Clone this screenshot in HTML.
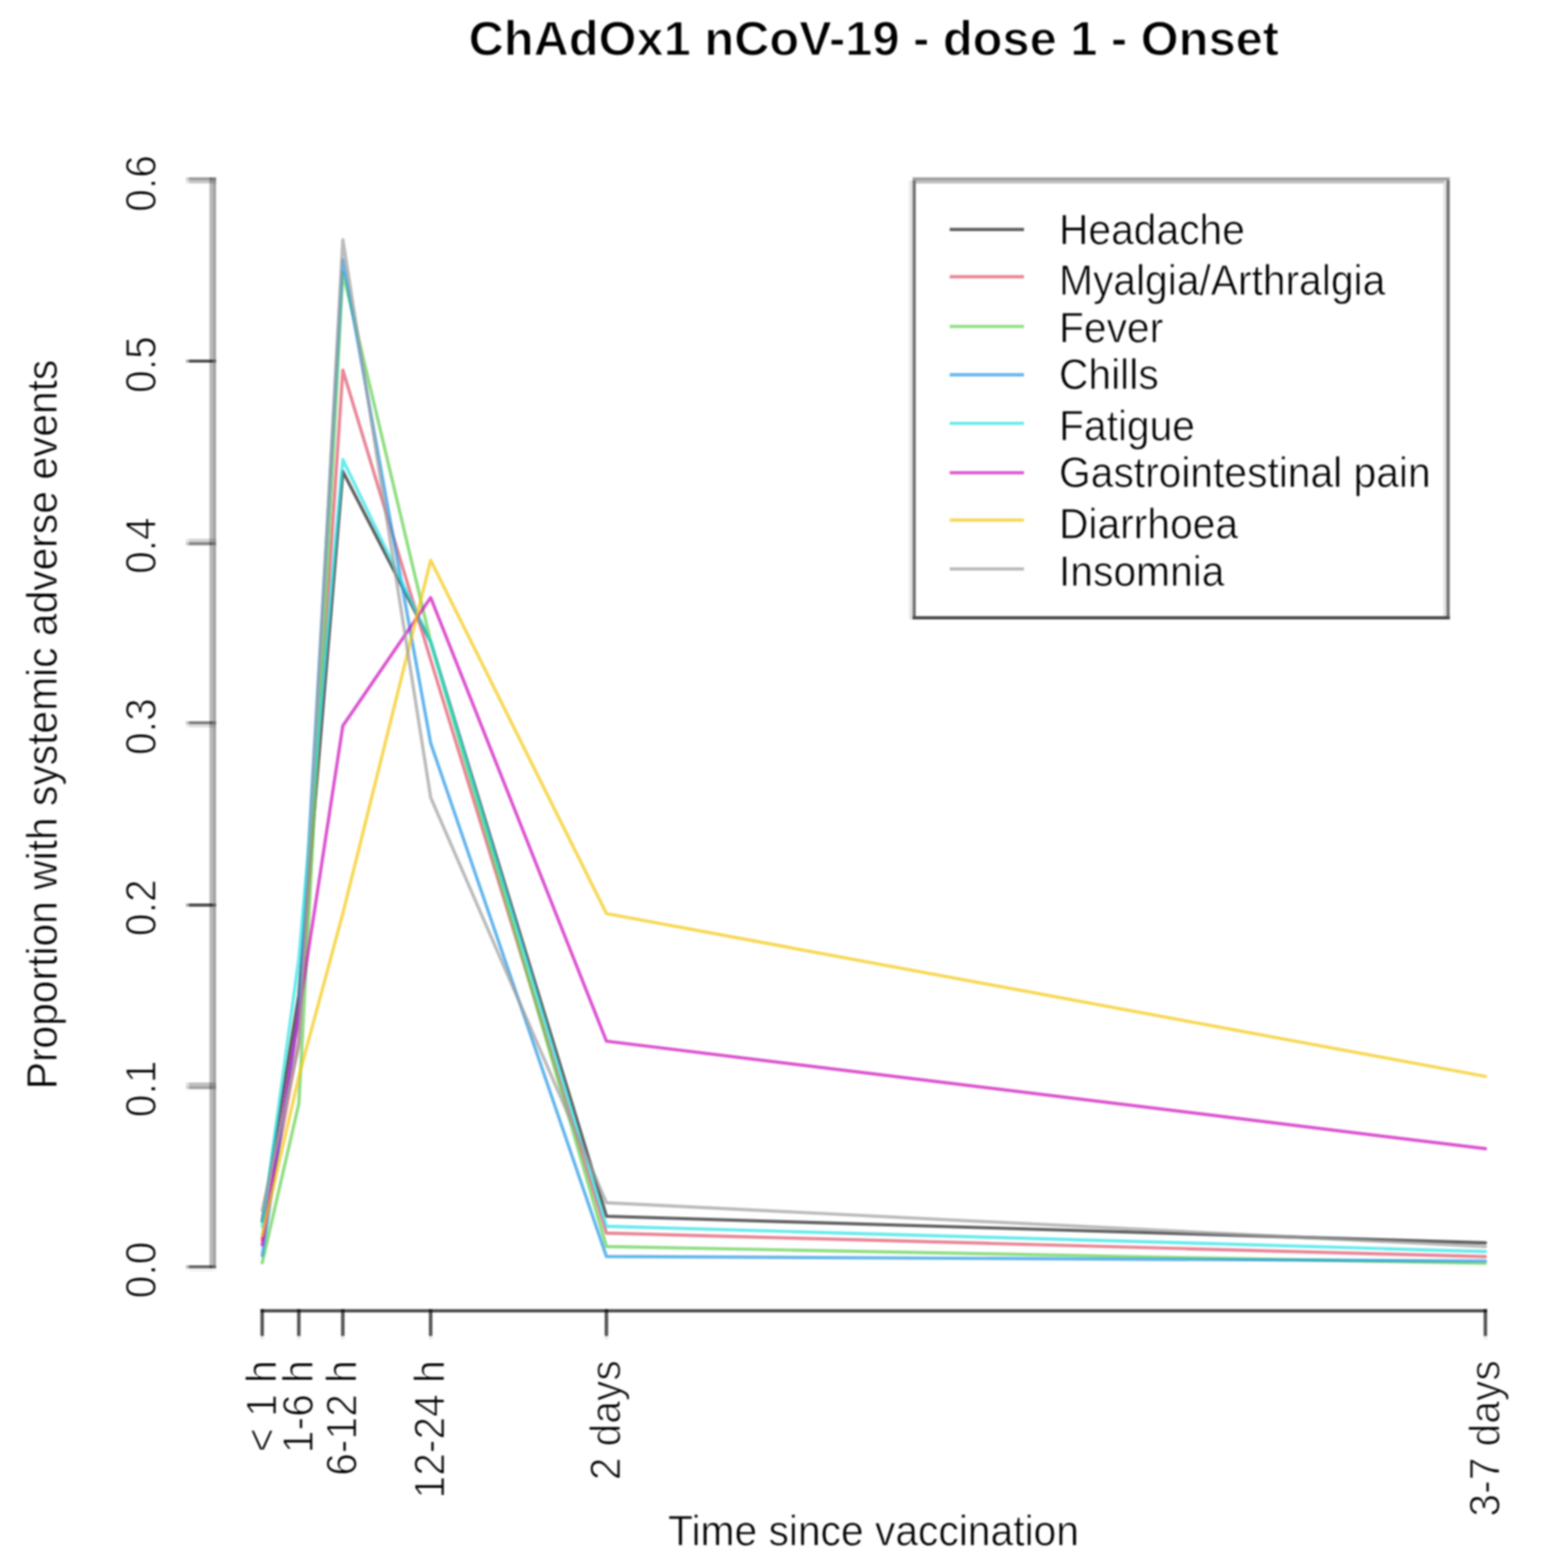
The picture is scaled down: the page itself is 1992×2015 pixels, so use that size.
<!DOCTYPE html>
<html><head><meta charset="utf-8"><title>ChAdOx1 nCoV-19 - dose 1 - Onset</title>
<style>html,body{margin:0;padding:0;background:#fff;}svg{display:block;filter:blur(1.0px);}text{font-family:"Liberation Sans",Arial,Helvetica,sans-serif;fill:#000;}</style></head><body>
<svg width="1992" height="2015" viewBox="0 0 1992 2015">
<rect x="0" y="0" width="1992" height="2015" fill="#fff"/>
<text x="1123" y="70.5" text-anchor="middle" font-weight="bold" font-size="62.7" stroke="#fff" stroke-width="1.4">ChAdOx1 nCoV-19 - dose 1 - Onset</text>
<g stroke-linecap="butt">
<rect x="269.2" y="228" width="4.2" height="1402" fill="#b8b8b8"/>
<rect x="273.4" y="228" width="4.2" height="1402" fill="#a0a0a0"/>
</g>
<g style="mix-blend-mode:multiply">
<rect x="243" y="227.9" width="30.7" height="3.9" fill="#999999"/>
<rect x="239.1" y="227.9" width="3.9" height="3.9" fill="#999999" fill-opacity="0.5"/>
<rect x="273.7" y="227.9" width="4.1" height="3.9" fill="#999999" fill-opacity="0.6"/>
<rect x="243" y="231.8" width="30.7" height="3.9" fill="#c6c6c6"/>
<rect x="239.1" y="231.8" width="3.9" height="3.9" fill="#c6c6c6" fill-opacity="0.5"/>
<rect x="273.7" y="231.8" width="4.1" height="3.9" fill="#c6c6c6" fill-opacity="0.6"/>
<rect x="243" y="462.1" width="30.7" height="3.9" fill="#4d4d4d"/>
<rect x="239.1" y="462.1" width="3.9" height="3.9" fill="#4d4d4d" fill-opacity="0.5"/>
<rect x="273.7" y="462.1" width="4.1" height="3.9" fill="#4d4d4d" fill-opacity="0.6"/>
<rect x="243" y="692.2" width="30.7" height="4.3" fill="#d4d4d4"/>
<rect x="239.1" y="692.2" width="3.9" height="4.3" fill="#d4d4d4" fill-opacity="0.5"/>
<rect x="273.7" y="692.2" width="4.1" height="4.3" fill="#d4d4d4" fill-opacity="0.6"/>
<rect x="243" y="696.5" width="30.7" height="4.2" fill="#858585"/>
<rect x="239.1" y="696.5" width="3.9" height="4.2" fill="#858585" fill-opacity="0.5"/>
<rect x="273.7" y="696.5" width="4.1" height="4.2" fill="#858585" fill-opacity="0.6"/>
<rect x="243" y="926.9" width="30.7" height="3.9" fill="#797979"/>
<rect x="239.1" y="926.9" width="3.9" height="3.9" fill="#797979" fill-opacity="0.5"/>
<rect x="273.7" y="926.9" width="4.1" height="3.9" fill="#797979" fill-opacity="0.6"/>
<rect x="243" y="930.8" width="30.7" height="3.9" fill="#dcdcdc"/>
<rect x="239.1" y="930.8" width="3.9" height="3.9" fill="#dcdcdc" fill-opacity="0.5"/>
<rect x="273.7" y="930.8" width="4.1" height="3.9" fill="#dcdcdc" fill-opacity="0.6"/>
<rect x="243" y="1161.0" width="30.7" height="4.2" fill="#4f4f4f"/>
<rect x="239.1" y="1161.0" width="3.9" height="4.2" fill="#4f4f4f" fill-opacity="0.5"/>
<rect x="273.7" y="1161.0" width="4.1" height="4.2" fill="#4f4f4f" fill-opacity="0.6"/>
<rect x="243" y="1391.2" width="30.7" height="4.5" fill="#bdbdbd"/>
<rect x="239.1" y="1391.2" width="3.9" height="4.5" fill="#bdbdbd" fill-opacity="0.5"/>
<rect x="273.7" y="1391.2" width="4.1" height="4.5" fill="#bdbdbd" fill-opacity="0.6"/>
<rect x="243" y="1395.7" width="30.7" height="3.9" fill="#a0a0a0"/>
<rect x="239.1" y="1395.7" width="3.9" height="3.9" fill="#a0a0a0" fill-opacity="0.5"/>
<rect x="273.7" y="1395.7" width="4.1" height="3.9" fill="#a0a0a0" fill-opacity="0.6"/>
<rect x="243" y="1626.0" width="30.7" height="3.9" fill="#626262"/>
<rect x="239.1" y="1626.0" width="3.9" height="3.9" fill="#626262" fill-opacity="0.5"/>
<rect x="273.7" y="1626.0" width="4.1" height="3.9" fill="#626262" fill-opacity="0.6"/>
<rect x="243" y="1629.9" width="30.7" height="4.1" fill="#f2f2f2"/>
<rect x="239.1" y="1629.9" width="3.9" height="4.1" fill="#f2f2f2" fill-opacity="0.5"/>
<rect x="273.7" y="1629.9" width="4.1" height="4.1" fill="#f2f2f2" fill-opacity="0.6"/>
</g>
<text transform="translate(199.5,1632.0) rotate(-90) scale(1,1.06)" text-anchor="middle" font-size="52.4" stroke="#fff" stroke-width="1.2">0.0</text>
<text transform="translate(199.5,1399.3) rotate(-90) scale(1,1.06)" text-anchor="middle" font-size="52.4" stroke="#fff" stroke-width="1.2">0.1</text>
<text transform="translate(199.5,1166.6) rotate(-90) scale(1,1.06)" text-anchor="middle" font-size="52.4" stroke="#fff" stroke-width="1.2">0.2</text>
<text transform="translate(199.5,933.9) rotate(-90) scale(1,1.06)" text-anchor="middle" font-size="52.4" stroke="#fff" stroke-width="1.2">0.3</text>
<text transform="translate(199.5,701.2) rotate(-90) scale(1,1.06)" text-anchor="middle" font-size="52.4" stroke="#fff" stroke-width="1.2">0.4</text>
<text transform="translate(199.5,468.5) rotate(-90) scale(1,1.06)" text-anchor="middle" font-size="52.4" stroke="#fff" stroke-width="1.2">0.5</text>
<text transform="translate(199.5,235.8) rotate(-90) scale(1,1.06)" text-anchor="middle" font-size="52.4" stroke="#fff" stroke-width="1.2">0.6</text>
<text transform="translate(72.5,931) rotate(-90) scale(1,1.06)" text-anchor="middle" font-size="52.4" stroke="#fff" stroke-width="0.8">Proportion with systemic adverse events</text>
<line x1="334.9" y1="1684.5" x2="1911.1" y2="1684.5" stroke="#454545" stroke-width="4.2"/>
<rect x="334.7" y="1682.3" width="4.5" height="34.5" fill="#545454" style="mix-blend-mode:multiply"/>
<rect x="334.7" y="1716.8" width="4.5" height="4.4" fill="#eaeaea" style="mix-blend-mode:multiply"/>
<text transform="translate(354.7,1748) rotate(-90) scale(1,1.06)" text-anchor="end" font-size="52.4" stroke="#fff" stroke-width="1.2">&lt; 1 h</text>
<rect x="381.8" y="1682.3" width="4.5" height="34.5" fill="#545454" style="mix-blend-mode:multiply"/>
<rect x="381.8" y="1716.8" width="4.5" height="4.4" fill="#eaeaea" style="mix-blend-mode:multiply"/>
<text transform="translate(401.8,1748) rotate(-90) scale(1,1.06)" text-anchor="end" font-size="52.4" stroke="#fff" stroke-width="1.2">1-6 h</text>
<rect x="438.3" y="1682.3" width="4.5" height="34.5" fill="#545454" style="mix-blend-mode:multiply"/>
<rect x="438.3" y="1716.8" width="4.5" height="4.4" fill="#eaeaea" style="mix-blend-mode:multiply"/>
<text transform="translate(458.3,1748) rotate(-90) scale(1,1.06)" text-anchor="end" font-size="52.4" stroke="#fff" stroke-width="1.2">6-12 h</text>
<rect x="551.2" y="1682.3" width="4.5" height="34.5" fill="#545454" style="mix-blend-mode:multiply"/>
<rect x="551.2" y="1716.8" width="4.5" height="4.4" fill="#eaeaea" style="mix-blend-mode:multiply"/>
<text transform="translate(571.2,1748) rotate(-90) scale(1,1.06)" text-anchor="end" font-size="52.4" stroke="#fff" stroke-width="1.2">12-24 h</text>
<rect x="777.1" y="1682.3" width="4.5" height="34.5" fill="#545454" style="mix-blend-mode:multiply"/>
<rect x="777.1" y="1716.8" width="4.5" height="4.4" fill="#eaeaea" style="mix-blend-mode:multiply"/>
<text transform="translate(797.1,1748) rotate(-90) scale(1,1.06)" text-anchor="end" font-size="52.4" stroke="#fff" stroke-width="1.2">2 days</text>
<rect x="1906.7" y="1682.3" width="4.5" height="34.5" fill="#545454" style="mix-blend-mode:multiply"/>
<rect x="1906.7" y="1716.8" width="4.5" height="4.4" fill="#eaeaea" style="mix-blend-mode:multiply"/>
<text transform="translate(1926.7,1748) rotate(-90) scale(1,1.06)" text-anchor="end" font-size="52.4" stroke="#fff" stroke-width="1.2">3-7 days</text>
<text transform="translate(1122.6,1986) scale(1,1.06)" text-anchor="middle" font-size="52.4" stroke="#fff" stroke-width="0.8">Time since vaccination</text>
<g fill="none" stroke-linejoin="round" stroke-linecap="round">
<polyline points="337.0,1569.3 384.1,1278.5 440.6,605.9 553.5,824.7 779.4,1563.0 1909.0,1597.2" stroke="#000000" stroke-opacity="0.62" stroke-width="4.2"/>
<polyline points="337.0,1592.6 384.1,1336.6 440.6,475.6 553.5,848.0 779.4,1584.7 1909.0,1614.9" stroke="#DF536B" stroke-opacity="0.7" stroke-width="4.2"/>
<polyline points="337.0,1622.8 384.1,1418.1 440.6,350.0 553.5,824.7 779.4,1601.9 1909.0,1623.5" stroke="#61D04F" stroke-opacity="0.7" stroke-width="4.2"/>
<polyline points="337.0,1613.5 384.1,1301.7 440.6,333.7 553.5,955.0 779.4,1614.7 1909.0,1620.5" stroke="#2297E6" stroke-opacity="0.7" stroke-width="4.2"/>
<polyline points="337.0,1576.3 384.1,1231.9 440.6,590.6 553.5,824.7 779.4,1575.8 1909.0,1608.4" stroke="#28E2E5" stroke-opacity="0.7" stroke-width="4.2"/>
<polyline points="337.0,1599.6 384.1,1301.7 440.6,932.7 553.5,767.9 779.4,1338.0 1909.0,1476.2" stroke="#CD0BBC" stroke-opacity="0.7" stroke-width="4.2"/>
<polyline points="337.0,1587.9 384.1,1383.2 440.6,1173.7 553.5,720.0 779.4,1174.0 1909.0,1383.2" stroke="#F5C710" stroke-opacity="0.7" stroke-width="4.2"/>
<polyline points="337.0,1555.4 384.1,1343.6 440.6,308.1 553.5,1024.8 779.4,1545.6 1909.0,1601.9" stroke="#9E9E9E" stroke-opacity="0.7" stroke-width="4.2"/>
</g>
<rect x="1168.4" y="232" width="4.4" height="564" fill="#e5e5e5"/>
<rect x="1855.1" y="232" width="3.9" height="560" fill="#e0e0e0"/>
<rect x="1172.8" y="232" width="683" height="3.8" fill="#c0c0c0"/>
<rect x="1172.8" y="227.9" width="690.4" height="4.1" fill="#a0a0a0"/>
<rect x="1172.8" y="232" width="4.2" height="564" fill="#757575"/>
<rect x="1859" y="232" width="4.2" height="564" fill="#757575"/>
<rect x="1172.8" y="791.8" width="690.4" height="4.2" fill="#4a4a4a"/>
<line x1="1220.5" y1="294.9" x2="1316" y2="294.9" stroke="#000000" stroke-opacity="0.62" stroke-width="4.2"/>
<text transform="translate(1361,314.1) scale(1,1.06)" font-size="52.4" stroke="#fff" stroke-width="0.8">Headache</text>
<line x1="1220.5" y1="355.6" x2="1316" y2="355.6" stroke="#DF536B" stroke-opacity="0.7" stroke-width="4.2"/>
<text transform="translate(1361,379.2) scale(1,1.06)" font-size="52.4" stroke="#fff" stroke-width="0.8">Myalgia/Arthralgia</text>
<line x1="1220.5" y1="419.5" x2="1316" y2="419.5" stroke="#61D04F" stroke-opacity="0.7" stroke-width="4.2"/>
<text transform="translate(1361,439.8) scale(1,1.06)" font-size="52.4" stroke="#fff" stroke-width="0.8">Fever</text>
<line x1="1220.5" y1="481.6" x2="1316" y2="481.6" stroke="#2297E6" stroke-opacity="0.7" stroke-width="4.2"/>
<text transform="translate(1361,499.8) scale(1,1.06)" font-size="52.4" stroke="#fff" stroke-width="0.8">Chills</text>
<line x1="1220.5" y1="544.0" x2="1316" y2="544.0" stroke="#28E2E5" stroke-opacity="0.7" stroke-width="4.2"/>
<text transform="translate(1361,565.9) scale(1,1.06)" font-size="52.4" stroke="#fff" stroke-width="0.8">Fatigue</text>
<line x1="1220.5" y1="607.5" x2="1316" y2="607.5" stroke="#CD0BBC" stroke-opacity="0.7" stroke-width="4.2"/>
<text transform="translate(1361,625.5) scale(1,1.06)" font-size="52.4" stroke="#fff" stroke-width="0.8">Gastrointestinal pain</text>
<line x1="1220.5" y1="668.3" x2="1316" y2="668.3" stroke="#F5C710" stroke-opacity="0.7" stroke-width="4.2"/>
<text transform="translate(1361,691.8) scale(1,1.06)" font-size="52.4" stroke="#fff" stroke-width="0.8">Diarrhoea</text>
<line x1="1220.5" y1="731.1" x2="1316" y2="731.1" stroke="#9E9E9E" stroke-opacity="0.7" stroke-width="4.2"/>
<text transform="translate(1361,753.1) scale(1,1.06)" font-size="52.4" stroke="#fff" stroke-width="0.8">Insomnia</text>
</svg>
</body></html>
